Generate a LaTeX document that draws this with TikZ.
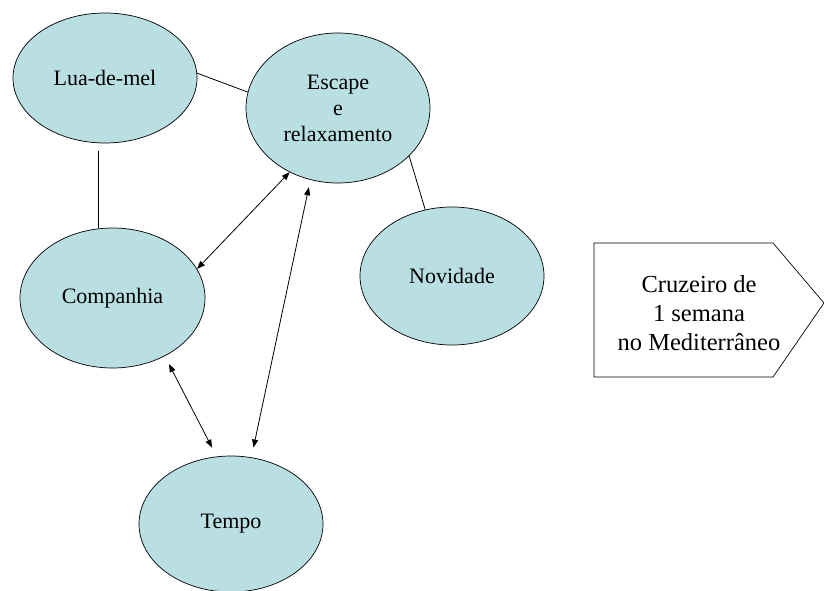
\documentclass[tikz,border=0pt]{standalone}
\usepackage{fontspec}
\setmainfont{Liberation Serif}
\usepackage{xcolor}
\definecolor{cFill}{HTML}{B9DFE3}
\definecolor{cLine}{HTML}{000000}
\usetikzlibrary{positioning,arrows.meta,shapes.geometric}
\tikzset{
  node-ell/.style={draw=cLine,line width=0.7pt,ellipse,fill=cFill,inner sep=0pt,
    minimum width=184pt,minimum height=130pt,align=center,
    font=\fontsize{22}{26}\selectfont},
  node-label/.style={align=center,font=\fontsize{24.5}{29}\selectfont},
  link/.style={line width=0.8pt,draw=cLine},
  arrow-both/.style={{Triangle[length=8pt,width=6pt]}-{Triangle[length=8pt,width=6pt]},
    line width=0.8pt,draw=cLine},
}

\begin{document}
\begin{tikzpicture}[x=1pt,y=-1pt]
  \useasboundingbox (0,0) rectangle (824,591);
  \node[node-ell] (lua) at (105,78) {Lua-de-mel};
  \node[node-ell,minimum height=150pt] (esc) at (338,108) {Escape\\e\\relaxamento};
  \node[node-ell,minimum height=138pt] (nov) at (452,276) {Novidade};
  \node[node-ell,minimum width=185pt,minimum height=140pt] (comp) at (112.5,298) {Companhia};
  \node[node-ell,minimum height=136pt] (tempo) at (231,524) {Tempo};
  % seta do cruzeiro
  \draw[line width=0.7pt,draw=cLine] (594,243) -- (773,243) -- (824,303) -- (773,377)
    -- (594,377) -- cycle;
  \node[node-label] (cruz) at (699,313) {Cruzeiro de\\1 semana\\no Mediterrâneo};
  \draw[link] (lua.3) -- (esc.170.6);
  \draw[link] ([yshift=-8pt]lua.264) -- (lua.264 |- comp.north);
  \draw[link] (esc.-34.8) -- (nov.112.4);
  \draw[arrow-both] (comp.19.3) -- (esc.233);
  \draw[arrow-both,shorten <=7.5pt,shorten >=10pt] (esc.249.8) -- (tempo.73.3);
  \draw[arrow-both,shorten <=9pt,shorten >=10pt] (comp.-48.5) -- (tempo.102.1);
\end{tikzpicture}
\end{document}
